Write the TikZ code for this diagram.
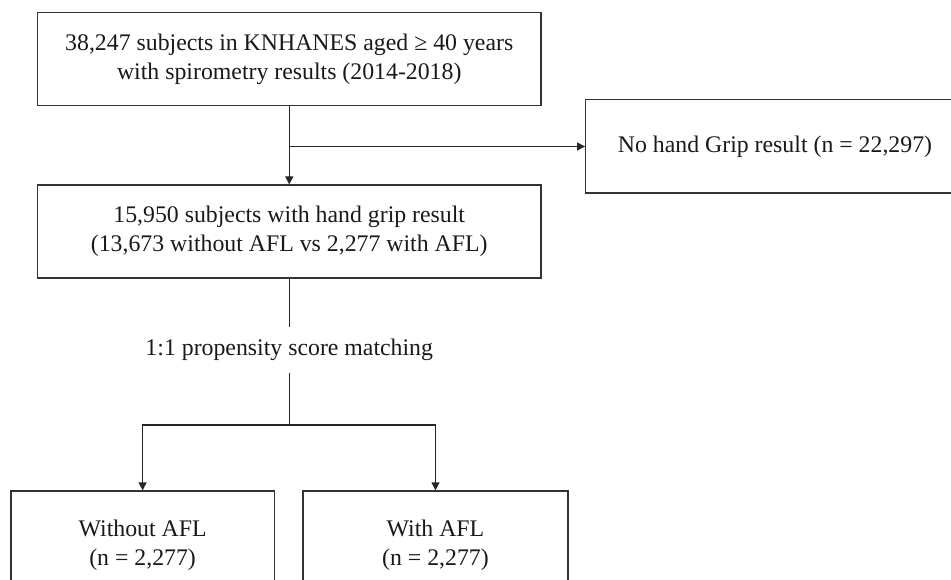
\documentclass[tikz,border=0pt]{standalone}
\usepackage{fontspec}
\setmainfont{Liberation Serif}
\usetikzlibrary{arrows.meta}
\begin{document}
\begin{tikzpicture}[x=1pt,y=-1pt,
  every node/.style={font=\fontsize{23.8pt}{29pt}\selectfont, text=black!90},
  box/.style={draw=black!80, line width=1.3pt, align=center, inner sep=0pt},
  conn/.style={draw=black!85, line width=1.3pt},
  arr/.style={conn, -{Triangle[length=8pt,width=8pt]}}]
\useasboundingbox (0,0) rectangle (951,580);
\clip (0,0) rectangle (951,580);
\node[box, minimum width=503.5pt, minimum height=93pt] (top) at (289.25,59.2)
  {\raisebox{-3pt}{\parbox{480pt}{\centering 38,247 subjects in KNHANES aged ≥ 40 years\\with spirometry results (2014-2018)}}};
\node[box, minimum width=503.5pt, minimum height=93pt] (mid) at (289.25,231.5)
  {\raisebox{-3pt}{\parbox{480pt}{\centering 15,950 subjects with hand grip result\\(13,673 without AFL vs 2,277 with AFL)}}};
\node[box, minimum width=378.6pt, minimum height=93.3pt] (excl) at (775,146.5)
  {No hand Grip result (n = 22,297)};
\node[inner sep=0pt, minimum height=46pt] (psm) at (289.25,349.7)
  {1:1 propensity score matching};
\node[box, minimum width=263.3pt, minimum height=108pt] (woafl) at (142.6,545)
  {Without AFL\\(n = 2,277)};
\node[box, minimum width=265pt, minimum height=108pt] (wafl) at (435.5,545)
  {With AFL\\(n = 2,277)};
\coordinate (branch) at (top.south |- excl.west);
\coordinate (split) at (289.25,425);
\draw[arr] (top.south) -- (mid.north);
\draw[arr] (branch) -- (excl.west);
\draw[conn] (mid.south) -- (psm.north);
\draw[conn] (psm.south) -- (split);
\draw[arr] (split) -| (woafl.north);
\draw[arr] (split) -| (wafl.north);
\end{tikzpicture}
\end{document}
